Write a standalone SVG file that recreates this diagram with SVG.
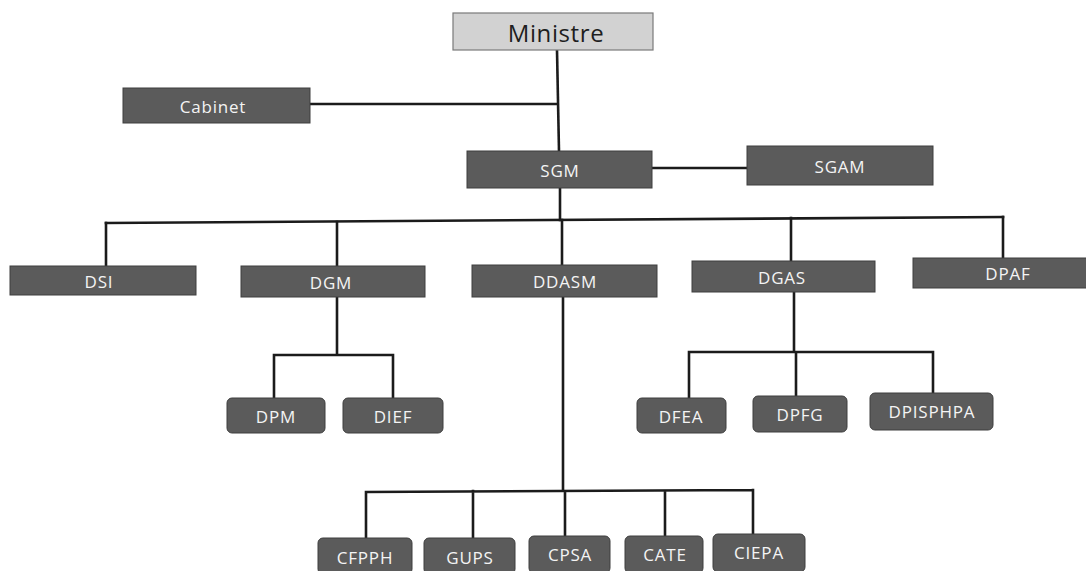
<svg xmlns="http://www.w3.org/2000/svg" width="1086" height="571" viewBox="0 0 1086 571">
<style>
.bg{fill:#ffffff}
.box{fill:#5b5b5b;stroke:#3e3e3e;stroke-width:1}
.rbox{fill:#5b5b5b;stroke:#3e3e3e;stroke-width:1}
.top{fill:#d2d2d2;stroke:#7a7a7a;stroke-width:1.2}
.lbl{font-family:"Open Sans","Noto Sans","Liberation Sans",sans-serif;font-size:17px;letter-spacing:0.8px;fill:#f4f4f4;text-anchor:middle;dominant-baseline:central}
.tl{font-family:"Open Sans","Noto Sans","Liberation Sans",sans-serif;font-size:24px;letter-spacing:0.6px;fill:#1e1e1e;text-anchor:middle;dominant-baseline:central}
.ln{stroke:#1b1b1b;stroke-width:2.6;fill:none;stroke-linecap:square}
</style>
<rect class="bg" x="0" y="0" width="1086" height="571"/>
<g id="connectors">
<path class="ln" d="M557,50 L559,151"/>
<path class="ln" d="M310,104 L557,104"/>
<path class="ln" d="M652,168 L747,168"/>
<path class="ln" d="M560,188 L560,220"/>
<path class="ln" d="M106,223 L1003,217"/>
<path class="ln" d="M106,223 L106,266"/>
<path class="ln" d="M337,222 L337,266"/>
<path class="ln" d="M562,220 L562,265"/>
<path class="ln" d="M791,218 L791,261"/>
<path class="ln" d="M1003,217 L1003,258"/>
<path class="ln" d="M337,297 L337,355 M274,355 L393,355 M274,355 L274,398 M393,355 L393,398"/>
<path class="ln" d="M794,292 L794,352 M689,352 L933,352 M689,352 L689,398 M796,352 L796,396 M933,352 L933,393"/>
<path class="ln" d="M563,297 L563,491 M366,492 L753,490 M366,492 L366,538 M473,491 L473,538 M565,491 L565,536 M665,491 L665,536 M753,490 L753,534"/>
</g>
<g id="n-ministre"><rect class="top" x="453" y="13" width="200" height="37"/><text class="tl" x="556" y="32">Ministre</text></g>
<g id="n-cabinet"><rect class="box" x="123" y="88" width="187" height="35"/><text class="lbl" x="213" y="106">Cabinet</text></g>
<g id="n-sgm"><rect class="box" x="467" y="151" width="185" height="37"/><text class="lbl" x="560" y="170">SGM</text></g>
<g id="n-sgam"><rect class="box" x="747" y="146" width="186" height="39"/><text class="lbl" x="840" y="166">SGAM</text></g>
<g id="n-dsi"><rect class="box" x="10" y="266" width="186" height="29"/><text class="lbl" x="99" y="281">DSI</text></g>
<g id="n-dgm"><rect class="box" x="241" y="266" width="184" height="31"/><text class="lbl" x="331" y="282">DGM</text></g>
<g id="n-ddasm"><rect class="box" x="472" y="265" width="185" height="32"/><text class="lbl" x="565" y="281">DDASM</text></g>
<g id="n-dgas"><rect class="box" x="692" y="261" width="183" height="31"/><text class="lbl" x="782" y="277">DGAS</text></g>
<g id="n-dpaf"><rect class="box" x="913" y="258" width="175" height="30"/><text class="lbl" x="1008" y="273">DPAF</text></g>
<g id="n-dpm"><rect class="rbox" x="227" y="398" width="98" height="35" rx="5"/><text class="lbl" x="276" y="416">DPM</text></g>
<g id="n-dief"><rect class="rbox" x="343" y="398" width="100" height="35" rx="5"/><text class="lbl" x="393" y="416">DIEF</text></g>
<g id="n-dfea"><rect class="rbox" x="637" y="398" width="89" height="35" rx="5"/><text class="lbl" x="681" y="416">DFEA</text></g>
<g id="n-dpfg"><rect class="rbox" x="753" y="396" width="94" height="36" rx="5"/><text class="lbl" x="800" y="414">DPFG</text></g>
<g id="n-dpisphpa"><rect class="rbox" x="870" y="393" width="123" height="37" rx="5"/><text class="lbl" x="932" y="411">DPISPHPA</text></g>
<g id="n-cfpph"><rect class="rbox" x="318" y="538" width="94" height="36" rx="5"/><text class="lbl" x="365" y="557">CFPPH</text></g>
<g id="n-gups"><rect class="rbox" x="424" y="538" width="91" height="36" rx="5"/><text class="lbl" x="470" y="557">GUPS</text></g>
<g id="n-cpsa"><rect class="rbox" x="529" y="536" width="81" height="37" rx="5"/><text class="lbl" x="570" y="554">CPSA</text></g>
<g id="n-cate"><rect class="rbox" x="625" y="536" width="78" height="37" rx="5"/><text class="lbl" x="665" y="554">CATE</text></g>
<g id="n-ciepa"><rect class="rbox" x="713" y="534" width="92" height="38" rx="5"/><text class="lbl" x="759" y="552">CIEPA</text></g>
</svg>
